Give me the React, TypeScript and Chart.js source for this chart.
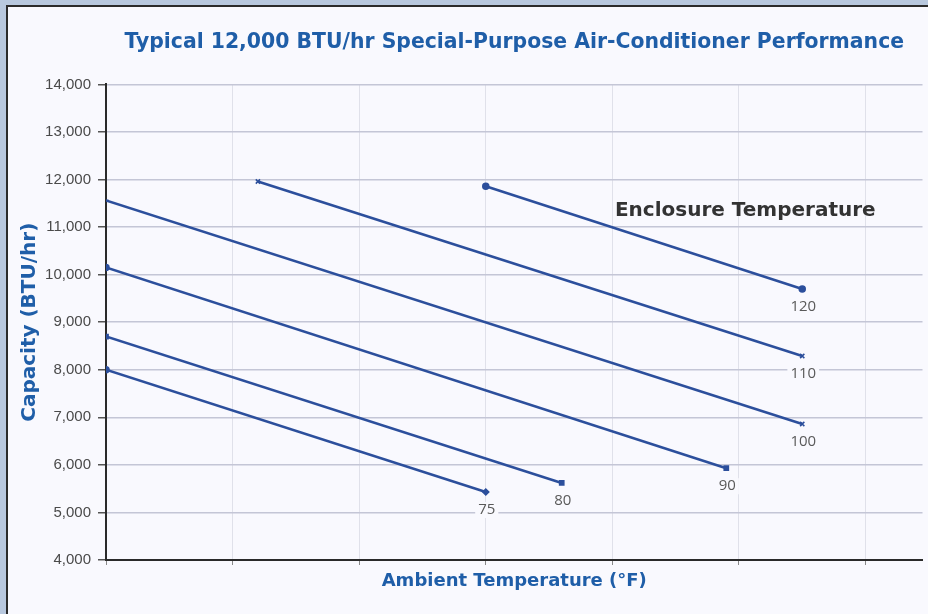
import React, { useEffect, useRef } from "react";
import { Chart, registerables } from "chart.js";

Chart.register(...registerables);

// Enclosure temperature series (°F) – ambient temperature (°F) vs capacity (BTU/hr)
const enclosureLabels = ["75", "80", "90", "100", "110", "120"];
const ambient75 = [60, 90];
const capacity75 = [8000, 5430];
const ambient80 = [60, 96];
const capacity80 = [8700, 5620];
const ambient90 = [60, 109];
const capacity90 = [10150, 5930];
const ambient100 = [60, 115];
const capacity100 = [11560, 6860];
const ambient110 = [72, 115];
const capacity110 = [11960, 8290];
const ambient120 = [90, 115];
const capacity120 = [11860, 9700];

const pointStyles = [
  ["circle", "rectRot"],
  ["rect", "rect"],
  ["circle", "rect"],
  ["line", "crossRot"],
  ["crossRot", "crossRot"],
  ["circle", "circle"],
];

const yTickValues = [4000, 5000, 6000, 7000, 8000, 9000, 10000, 11000, 12000, 13000, 14000];
const xGridValues = [60, 70, 80, 90, 100, 110, 120];

const titleText = "Typical 12,000 BTU/hr Special-Purpose Air-Conditioner Performance";
const yTitle = "Capacity (BTU/hr)";
const xTitle = "Ambient Temperature (°F)";
const legendTitle = "Enclosure Temperature";
const legendAnchor = { x: 110.5, y: 11350 };

const LINE = "#2c4f9c";
const BLUE = "#1f5ea8";
const PANEL = "#f9f9fe";
const HEAVY = "'DejaVu Sans', 'Liberation Sans', sans-serif";

const toPoints = (xs: number[], ys: number[]) => xs.map((x, i) => ({ x, y: ys[i] }));

const seriesData = [
  toPoints(ambient75, capacity75),
  toPoints(ambient80, capacity80),
  toPoints(ambient90, capacity90),
  toPoints(ambient100, capacity100),
  toPoints(ambient110, capacity110),
  toPoints(ambient120, capacity120),
];

const labelPlugin = {
  id: "endLabels",
  afterDatasetsDraw(chart: any) {
    const { ctx, scales } = chart;
    ctx.save();
    ctx.font = "15px 'Open Sans'";
    ctx.textAlign = "center";
    ctx.textBaseline = "middle";
    chart.data.datasets.forEach((ds: any, i: number) => {
      const last = ds.data[ds.data.length - 1];
      const px = scales.x.getPixelForValue(last.x) + 1;
      const py = scales.y.getPixelForValue(last.y) + 18;
      const w = ctx.measureText(enclosureLabels[i]).width;
      ctx.fillStyle = PANEL;
      ctx.fillRect(px - w / 2 - 3, py - 8, w + 6, 16);
      ctx.fillStyle = "#5a5a5a";
      ctx.fillText(enclosureLabels[i], px, py);
    });
    ctx.font = "bold 20px 'DejaVu Sans'";
    ctx.fillStyle = "#333333";
    ctx.fillText(
      legendTitle,
      scales.x.getPixelForValue(legendAnchor.x),
      scales.y.getPixelForValue(legendAnchor.y)
    );
    ctx.restore();
  },
};

export default function App() {
  const canvasRef = useRef<HTMLCanvasElement | null>(null);

  useEffect(() => {
    if (!canvasRef.current) return;
    const chart = new Chart(canvasRef.current, {
      type: "line",
      data: {
        datasets: seriesData.map((d, i) => ({
          label: enclosureLabels[i],
          data: d,
          borderColor: LINE,
          backgroundColor: LINE,
          borderWidth: 2.5,
          pointStyle: pointStyles[i] as any,
          pointRadius: 3,
          pointBorderWidth: 1.5,
          pointBorderColor: LINE,
          pointBackgroundColor: LINE,
          fill: false,
          tension: 0,
        })),
      },
      options: {
        animation: false,
        responsive: true,
        maintainAspectRatio: false,
        layout: { padding: { left: 0, right: 0, top: 0, bottom: 0 } },
        plugins: {
          legend: { display: false },
          tooltip: { enabled: false },
          title: {
            display: true,
            text: titleText,
            fullSize: false,
            color: BLUE,
            font: { family: HEAVY, size: 20.4, weight: "bold" },
            padding: { top: 23, bottom: 30 },
          },
        },
        scales: {
          x: {
            type: "linear",
            min: 60,
            max: 124.5,
            afterBuildTicks: (scale: any) => {
              scale.ticks = xGridValues.map((v) => ({ value: v }));
            },
            afterFit: (scale: any) => {
              scale.height = 54;
            },
            ticks: { display: false },
            grid: {
              color: "#e0e1ea",
              lineWidth: 1,
              drawTicks: true,
              tickLength: 5,
              tickColor: "#888",
            },
            border: { display: true, color: "#2a2a2a", width: 2 },
            title: {
              display: true,
              text: xTitle,
              color: BLUE,
              font: { family: HEAVY, size: 18, weight: "bold" },
              padding: { top: 0, bottom: 22 },
            },
          },
          y: {
            type: "linear",
            min: 4000,
            max: 14000,
            afterBuildTicks: (scale: any) => {
              scale.ticks = yTickValues.map((v) => ({ value: v }));
            },
            afterFit: (scale: any) => {
              scale.width = 98;
            },
            ticks: {
              color: "#4a4a4a",
              padding: 7,
              font: { family: "'Liberation Sans', Arial, sans-serif", size: 15 },
              callback: (v: any) => Number(v).toLocaleString("en-US"),
            },
            grid: {
              color: "#c4c6d6",
              lineWidth: 1.5,
              drawTicks: true,
              tickLength: 8,
              tickColor: "#555",
            },
            border: { display: true, color: "#2a2a2a", width: 2 },
            title: {
              display: true,
              text: yTitle,
              color: BLUE,
              font: { family: HEAVY, size: 20, weight: "bold" },
              padding: { top: 10, bottom: 0 },
            },
          },
        },
      },
      plugins: [labelPlugin],
    });
    return () => chart.destroy();
  }, []);

  return (
    <div
      style={{
        position: "fixed",
        left: 0,
        top: 0,
        width: 928,
        height: 614,
        overflow: "hidden",
        background: "#b8c8de",
      }}
    >
      <div
        style={{
          position: "absolute",
          left: 6,
          top: 5,
          width: 940,
          height: 620,
          borderLeft: "2px solid #2b2b2b",
          borderTop: "2px solid #2b2b2b",
          background: PANEL,
        }}
      >
        <div style={{ position: "absolute", left: 0, top: 0, width: 920, height: 607 }}>
          <canvas ref={canvasRef} />
        </div>
      </div>
    </div>
  );
}
